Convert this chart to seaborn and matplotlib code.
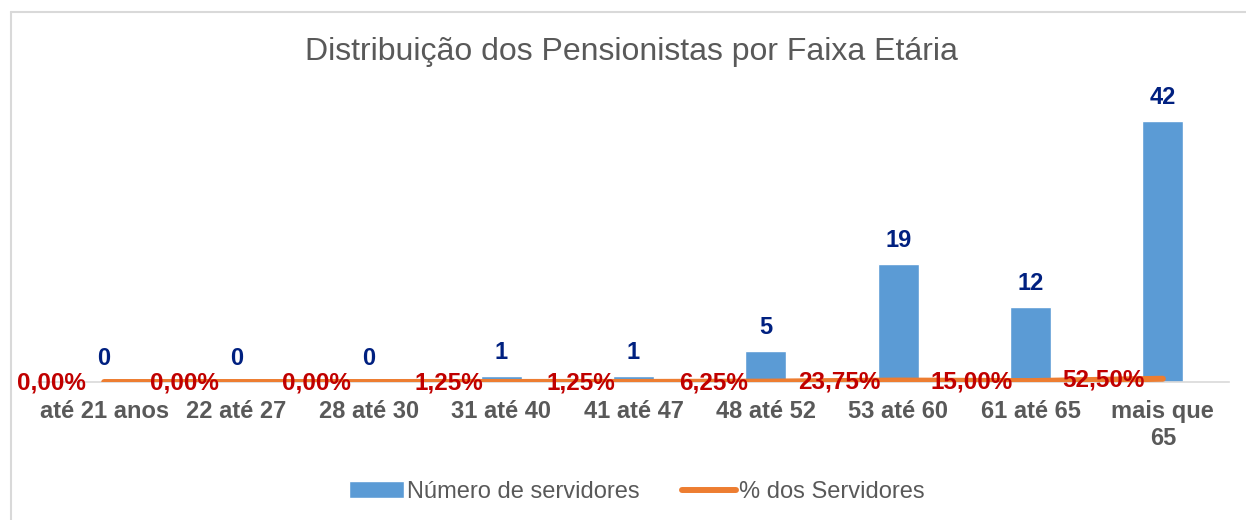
import numpy as np
import matplotlib
matplotlib.use("Agg")
import matplotlib.pyplot as plt
import seaborn as sns

# ---- data ----
faixas = ["até 21 anos", "22 até 27", "28 até 30", "31 até 40", "41 até 47",
          "48 até 52", "53 até 60", "61 até 65", "mais que 65"]
num_servidores = [0, 0, 0, 1, 1, 5, 19, 12, 42]
pct_servidores = [0.00, 0.00, 0.00, 1.25, 1.25, 6.25, 23.75, 15.00, 52.50]

sns.set_theme(style="white")
plt.rcParams['font.family'] = ['Liberation Sans', 'DejaVu Sans']

bar_color = "#5B9BD5"
line_color = "#ED7D31"
grey = "#595959"

fig = plt.figure(figsize=(12.46, 5.2), dpi=100)
ax = fig.add_axes([38/1246, 138/520, (1229-38)/1246, (382-102)/520])

# bars
sns.barplot(x=faixas, y=num_servidores, color=bar_color, saturation=1,
            width=0.31, ax=ax, label="Número de servidores", zorder=2)

# percentage line, drawn on the same axis (as fractions)
xpos = np.arange(len(faixas))
pct_frac = np.array(pct_servidores) / 100
sns.lineplot(x=xpos, y=pct_frac, color=line_color, linewidth=4.3, ax=ax,
             label="% dos Servidores", zorder=3, solid_capstyle="round")

ax.set_xlim(-0.5, len(faixas) - 0.5)
ax.set_ylim(0, 45)

# data labels
for x, v in zip(xpos, num_servidores):
    ax.annotate(f"{v}", (x, v), xytext=(0, 17), textcoords="offset points",
                ha="center", va="center", fontsize=17, fontweight="bold",
                color="#002080", zorder=5)
for x, v, p in zip(xpos, pct_frac, pct_servidores):
    lab = f"{p:.2f}%".replace(".", ",")
    ax.annotate(lab, (x, v), xytext=(-13, -1), textcoords="offset points",
                ha="right", va="center", fontsize=17.5, fontweight="bold",
                color="#C00000", zorder=6)

# axes styling
for s in ["top", "right", "left"]:
    ax.spines[s].set_visible(False)
ax.spines["bottom"].set_color("#D9D9D9")
ax.spines["bottom"].set_linewidth(1.2)
ax.set_yticks([])
ax.set_xticks(xpos)
ax.set_xticklabels([f.replace("mais que ", "mais que\n") for f in faixas],
                   fontsize=17, fontweight="bold", color=grey)
ax.tick_params(axis="x", length=0, pad=13)
ax.set_xlabel("")
ax.set_ylabel("")
ax.patch.set_alpha(0)

handles, labels = ax.get_legend_handles_labels()
ax.get_legend().remove()
order = [labels.index("Número de servidores"), labels.index("% dos Servidores")]
fig.legend([handles[i] for i in order], [labels[i] for i in order],
           loc="center", bbox_to_anchor=(637/1246, 1 - 492/520),
           ncol=2, frameon=False, fontsize=17, labelcolor=grey,
           handlelength=2.3, handletextpad=0.12, columnspacing=1.8)

fig.text(631/1246, 1 - 52/520, "Distribuição dos Pensionistas por Faixa Etária",
         ha="center", va="center", fontsize=23, color=grey)

# chart frame
fig.add_artist(plt.Line2D([11/1246, 11/1246], [0, 1 - 12/520],
                          transform=fig.transFigure, color="#D9D9D9", lw=1.5))
fig.add_artist(plt.Line2D([11/1246, 1], [1 - 12/520, 1 - 12/520],
                          transform=fig.transFigure, color="#D9D9D9", lw=1.5))

fig.savefig("out.png", dpi=100)
